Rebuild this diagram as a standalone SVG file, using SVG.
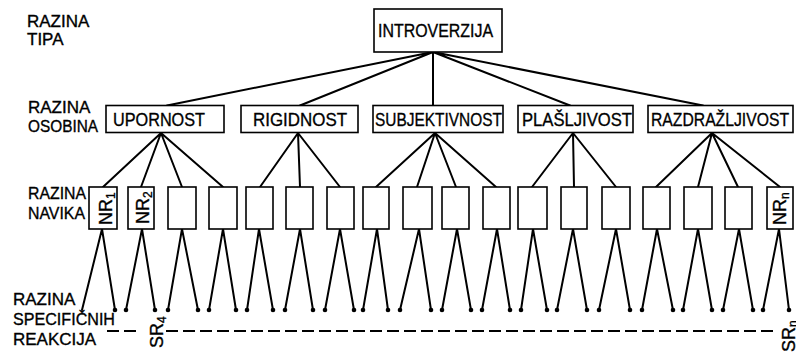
<svg xmlns="http://www.w3.org/2000/svg" width="796" height="354" viewBox="0 0 796 354">
<style>
.box{fill:#fff;stroke:#000;stroke-width:1.6}
.ln{stroke:#000;stroke-width:2;fill:none;stroke-linecap:round}
.dash{stroke:#000;stroke-width:2;fill:none;stroke-dasharray:12 5}
text{font-family:"Liberation Sans",Arial,sans-serif;fill:#000;stroke:#000;stroke-width:0.35}
.lbl{font-size:17px}
.t{font-size:19px}
.nr{font-size:18px}
.sub{font-size:12px}
</style>
<rect width="796" height="354" fill="#fff"/>
<g id="labels">
<text class="lbl" x="27" y="27">RAZINA</text>
<text class="lbl" x="27" y="45">TIPA</text>
<text class="lbl" x="28" y="113">RAZINA</text>
<text class="lbl" x="28" y="132" textLength="70" lengthAdjust="spacingAndGlyphs">OSOBINA</text>
<text class="lbl" x="28" y="199" textLength="58" lengthAdjust="spacingAndGlyphs">RAZINA</text>
<text class="lbl" x="28" y="219" textLength="57" lengthAdjust="spacingAndGlyphs">NAVIKA</text>
<text class="lbl" x="13" y="305">RAZINA</text>
<text class="lbl" x="13" y="325" textLength="102" lengthAdjust="spacingAndGlyphs">SPECIFIČNIH</text>
<text class="lbl" x="13" y="345">REAKCIJA</text>
</g>
<g id="connectors">
<path class="ln" d="M433 52L167 105.5M433 52L300 105.5M433 52L433 105.5M433 52L570 105.5M433 52L703 105.5"/>
<path class="ln" d="M161 133L103 187M161 133L141 187M161 133L182 187M161 133L223 187"/>
<path class="ln" d="M298 133L260 187M298 133L300 187M298 133L340 187"/>
<path class="ln" d="M435 133L376 187M435 133L417 187M435 133L456 187M435 133L496 187"/>
<path class="ln" d="M573 133L532 187M573 133L574 187M573 133L616 187"/>
<path class="ln" d="M712 133L656 187M712 133L698 187M712 133L738 187M712 133L780 187"/>
<path class="ln" d="M82 310L102 229L115 310M126 310L142 229L155 310M168 310L182 229L198 310M209 310L223 229L236 310M247 310L259 229L273 310M285 310L300 229L313 310M325 310L340 229L354 310M363 310L377 229L388 310M400 310L419 229L431 310M442 310L457 229L471 310M482 310L497 229L510 310M521 310L533 229L547 310M557 310L573 229L587 310M599 310L616 229L630 310M642 310L657 229L673 310M683 310L698 229L712 310M723 310L739 229L753 310M763 310L779 229L789 310"/>
<g fill="#000">
<circle cx="115" cy="310" r="2.3"/><circle cx="126" cy="310" r="2.3"/><circle cx="155" cy="310" r="2.3"/><circle cx="168" cy="310" r="2.3"/><circle cx="198" cy="310" r="2.3"/><circle cx="209" cy="310" r="2.3"/><circle cx="236" cy="310" r="2.3"/><circle cx="247" cy="310" r="2.3"/><circle cx="273" cy="310" r="2.3"/><circle cx="285" cy="310" r="2.3"/><circle cx="313" cy="310" r="2.3"/><circle cx="325" cy="310" r="2.3"/><circle cx="354" cy="310" r="2.3"/><circle cx="363" cy="310" r="2.3"/><circle cx="388" cy="310" r="2.3"/><circle cx="400" cy="310" r="2.3"/><circle cx="431" cy="310" r="2.3"/><circle cx="442" cy="310" r="2.3"/><circle cx="471" cy="310" r="2.3"/><circle cx="482" cy="310" r="2.3"/><circle cx="510" cy="310" r="2.3"/><circle cx="521" cy="310" r="2.3"/><circle cx="547" cy="310" r="2.3"/><circle cx="557" cy="310" r="2.3"/><circle cx="587" cy="310" r="2.3"/><circle cx="599" cy="310" r="2.3"/><circle cx="630" cy="310" r="2.3"/><circle cx="642" cy="310" r="2.3"/><circle cx="673" cy="310" r="2.3"/><circle cx="683" cy="310" r="2.3"/><circle cx="712" cy="310" r="2.3"/><circle cx="723" cy="310" r="2.3"/><circle cx="753" cy="310" r="2.3"/><circle cx="763" cy="310" r="2.3"/><circle cx="789" cy="310" r="2.3"/>
</g>
<path class="dash" d="M107 331H141M166 331H776"/>
</g>
<g id="n-introverzija">
<rect class="box" x="374" y="9" width="128" height="43"/>
<text class="t" x="378" y="37" textLength="115" lengthAdjust="spacingAndGlyphs">INTROVERZIJA</text>
</g>
<g id="n-upornost">
<rect class="box" x="106" y="105.5" width="118" height="27"/>
<text class="t" x="113" y="126" textLength="92" lengthAdjust="spacingAndGlyphs">UPORNOST</text>
</g>
<g id="n-rigidnost">
<rect class="box" x="241" y="105.5" width="117" height="27"/>
<text class="t" x="253" y="126" textLength="94" lengthAdjust="spacingAndGlyphs">RIGIDNOST</text>
</g>
<g id="n-subjektivnost">
<rect class="box" x="373" y="105.5" width="130" height="27"/>
<text class="t" x="375" y="126" textLength="127" lengthAdjust="spacingAndGlyphs">SUBJEKTIVNOST</text>
</g>
<g id="n-plasljivost">
<rect class="box" x="518" y="105.5" width="115" height="27"/>
<text class="t" x="522" y="126" textLength="110" lengthAdjust="spacingAndGlyphs">PLAŠLJIVOST</text>
</g>
<g id="n-razdrazljivost">
<rect class="box" x="648" y="105.5" width="145" height="27"/>
<text class="t" x="651" y="126" textLength="138" lengthAdjust="spacingAndGlyphs">RAZDRAŽLJIVOST</text>
</g>
<g id="habits">
<g id="n-nr1"><rect class="box" x="89" y="187" width="28" height="42"/><text class="nr" transform="translate(112,225) rotate(-90)">NR<tspan class="sub" dy="3">1</tspan></text></g>
<g id="n-nr2"><rect class="box" x="128" y="187" width="26" height="42"/><text class="nr" transform="translate(149,224) rotate(-90)">NR<tspan class="sub" dy="3">2</tspan></text></g>
<g id="n-h3"><rect class="box" x="168" y="187" width="28" height="42"/></g>
<g id="n-h4"><rect class="box" x="209" y="187" width="28" height="42"/></g>
<g id="n-h5"><rect class="box" x="246" y="187" width="27" height="42"/></g>
<g id="n-h6"><rect class="box" x="286" y="187" width="27" height="42"/></g>
<g id="n-h7"><rect class="box" x="327" y="187" width="27" height="42"/></g>
<g id="n-h8"><rect class="box" x="363" y="187" width="26" height="42"/></g>
<g id="n-h9"><rect class="box" x="403" y="187" width="29" height="42"/></g>
<g id="n-h10"><rect class="box" x="442" y="187" width="27" height="42"/></g>
<g id="n-h11"><rect class="box" x="483" y="187" width="27" height="42"/></g>
<g id="n-h12"><rect class="box" x="518" y="187" width="29" height="42"/></g>
<g id="n-h13"><rect class="box" x="561" y="187" width="26" height="42"/></g>
<g id="n-h14"><rect class="box" x="602" y="187" width="28" height="42"/></g>
<g id="n-h15"><rect class="box" x="643" y="187" width="27" height="42"/></g>
<g id="n-h16"><rect class="box" x="684" y="187" width="28" height="42"/></g>
<g id="n-h17"><rect class="box" x="725" y="187" width="27" height="42"/></g>
<g id="n-nrn"><rect class="box" x="767" y="187" width="26" height="42"/><text class="nr" transform="translate(786,225) rotate(-90)">NR<tspan class="sub" dy="3">n</tspan></text></g>
</g>
<g id="n-sr4"><text class="nr" transform="translate(163,348) rotate(-90)">SR<tspan class="sub" dy="3">4</tspan></text></g>
<g id="n-srn"><text class="nr" transform="translate(795,352) rotate(-90)">SR<tspan class="sub" dy="2">n</tspan></text></g>
</svg>
